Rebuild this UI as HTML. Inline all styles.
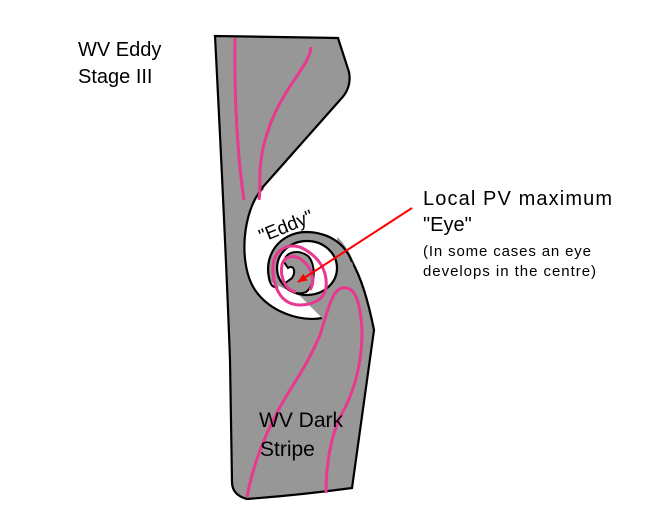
<!DOCTYPE html>
<html><head><style>body{margin:0;background:#fff}svg{display:block}</style></head><body>
<svg width="650" height="524" viewBox="0 0 650 524" xmlns="http://www.w3.org/2000/svg" font-family="'Liberation Sans', sans-serif">
<defs><marker id="ah" markerWidth="10" markerHeight="8" refX="9" refY="4" orient="auto" markerUnits="userSpaceOnUse"><path d="M0,0 L10,4 L0,8 Z" fill="#f00"/></marker></defs>
<!-- silhouette fill -->
<path d="M215,36 L338,38 L349,72 Q352,88 340,100 L262,188 L300,235 L330,232 C352,242 366,290 374,330 L352,488 Q300,495 247,499 Q232,495 232,482 L230,360 Q226,250 215,36 Z" fill="#979797"/>
<!-- silhouette outline -->
<path d="M262,188 L340,100 Q352,88 349,72 L338,38 L215,36 Q226,250 230,360 L232,482 Q232,495 247,499 Q300,495 352,488 L374,330 C366,290 358,272 352,262" fill="none" stroke="#000" stroke-width="2.2"/>
<!-- white eddy -->
<path d="M262,188 C242,210 238,265 255,290 C270,312 300,322 322,318 L330,300 L340,215 L300,200 Z" fill="#fff" stroke="none"/>
<path d="M263,188 C242,210 238,265 255,290 C270,312 300,322 322,318" fill="none" stroke="#000" stroke-width="2.2"/>
<!-- arm -->
<path d="M270,282 C262,255 280,233 305,232 C330,232 346,245 352,262 C358,280 352,300 322,318 L300,296 Z" fill="#979797"/>
<path d="M270,282 C262,255 280,233 305,232 C330,232 346,245 352,262" fill="none" stroke="#000" stroke-width="2.2"/>
<path d="M270,282 Q272,288 278,287" fill="none" stroke="#000" stroke-width="2"/>
<!-- inner white ring -->
<ellipse cx="307" cy="268" rx="30" ry="27" fill="#fff" stroke="#000" stroke-width="2.2"/>
<!-- inner blob -->
<path d="M284,262 C286,250 300,250 308,256 C316,264 316,285 306,292 C296,296 286,290 284,284 L292,278 C296,272 294,264 288,268 Z" fill="#979797" stroke="#000" stroke-width="2"/>
<!-- pink loops -->
<path d="M300,305 C280,305 272,285 273,265 C275,248 290,243 302,248 C318,256 328,270 326,288 C324,300 312,305 300,305" fill="none" stroke="#e8388f" stroke-width="3"/>
<path d="M296,292 C284,290 280,275 282,265 C284,256 294,254 302,260 C312,268 316,280 310,290" fill="none" stroke="#e8388f" stroke-width="3"/>
<!-- pink lines -->
<path d="M235,38 C234,100 238,160 244,200" fill="none" stroke="#e8388f" stroke-width="3"/>
<path d="M311,47 C310,65 285,85 270,125 C255,165 262,185 259,200" fill="none" stroke="#e8388f" stroke-width="3"/>
<path d="M247,497 C252,470 262,440 280,407 C292,385 305,370 320,335 C328,310 332,290 342,288 C354,286 360,298 362,330 C362,360 356,390 340,417 C330,440 326,465 326,493" fill="none" stroke="#e8388f" stroke-width="3"/>
<!-- arrow -->
<line x1="412" y1="208" x2="298" y2="282" stroke="#f00" stroke-width="2" marker-end="url(#ah)"/>
<!-- text -->
<text x="78" y="56" font-size="20">WV Eddy</text>
<text x="78" y="83" font-size="20">Stage III</text>
<text x="256" y="236" font-size="19" transform="rotate(-22 276 224)">"Eddy"</text>
<text x="423" y="205" font-size="20" textLength="189">Local PV maximum</text>
<text x="423" y="231" font-size="20">"Eye"</text>
<text x="423" y="256" font-size="15" textLength="168">(In some cases an eye</text>
<text x="423" y="276" font-size="15" textLength="173">develops in the centre)</text>
<text x="259" y="427" font-size="21">WV Dark</text>
<text x="260" y="456" font-size="21">Stripe</text>
</svg>
</body></html>
